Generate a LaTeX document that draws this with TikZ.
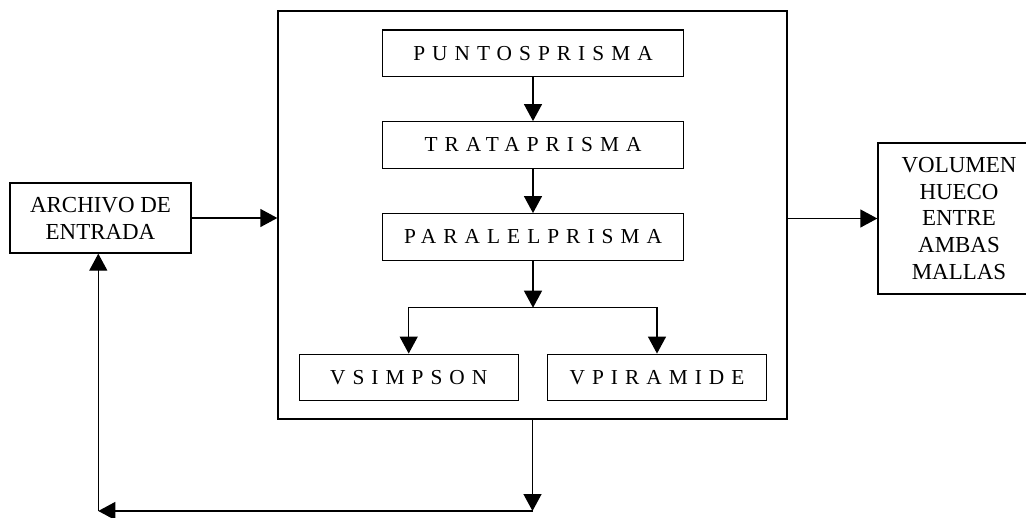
\documentclass[tikz,border=0pt]{standalone}
\usepackage{fontspec}
\setmainfont{Liberation Serif}
\newfontfamily\spacedfont[LetterSpace=33]{Liberation Serif}
\usetikzlibrary{arrows.meta}
\begin{document}
\begin{tikzpicture}[x=0.75pt,y=-0.75pt,
  line width=1pt,
  box/.style={draw, line width=1pt, inner sep=0pt, align=center},
  plain/.style={box, font=\fontsize{17.2}{20.2}\selectfont},
  spaced/.style={box, font=\spacedfont\fontsize{16}{19}\selectfont, minimum height=46.5*0.75pt},
  arr/.style={-{Triangle[length=12.75pt,width=13.5pt]}}]
\useasboundingbox (0,0) rectangle (1026,518);
\clip (0,0) rectangle (1026,518);
\node[box, minimum width=509*0.75pt, minimum height=408*0.75pt] (main) at (532.5,215) {};
\node[spaced, minimum width=301*0.75pt] (p1) at (533,53.3) {PUNTOSPRISMA};
\node[spaced, minimum width=301*0.75pt] (p2) at (533,145) {TRATAPRISMA};
\node[spaced, minimum width=301*0.75pt] (p3) at (533,237) {PARALELPRISMA};
\node[spaced, minimum width=219*0.75pt] (vs) at (408.7,377.5) {VSIMPSON};
\node[spaced, minimum width=219*0.75pt] (vp) at (657,377.5) {VPIRAMIDE};
\node[plain, minimum width=181*0.75pt, minimum height=70*0.75pt] (arch) at (100.5,218) {ARCHIVO DE\\ENTRADA};
\node[plain, minimum width=162*0.75pt, minimum height=151*0.75pt] (vol) at (959,218.5) {VOLUMEN\\HUECO\\ENTRE\\AMBAS\\MALLAS};
\coordinate (fork) at (533,307.7);
\coordinate (br) at (532.5,511);
\coordinate (bl) at (98.3,511);
\draw[arr] (p1) -- (p2);
\draw[arr] (p2) -- (p3);
\draw[arr] (p3) -- (fork);
\draw[arr] (fork) -| (vs.north);
\draw[arr] (fork) -| (vp.north);
\draw[arr] (arch.east) -- (arch.east -| main.west);
\draw[arr] (main.east |- vol.west) -- (vol.west);
\draw[arr] (main.south) -- (br);
\draw[arr] (br) -- (bl);
\draw[arr] (bl) -- (bl |- arch.south);
\end{tikzpicture}
\end{document}
